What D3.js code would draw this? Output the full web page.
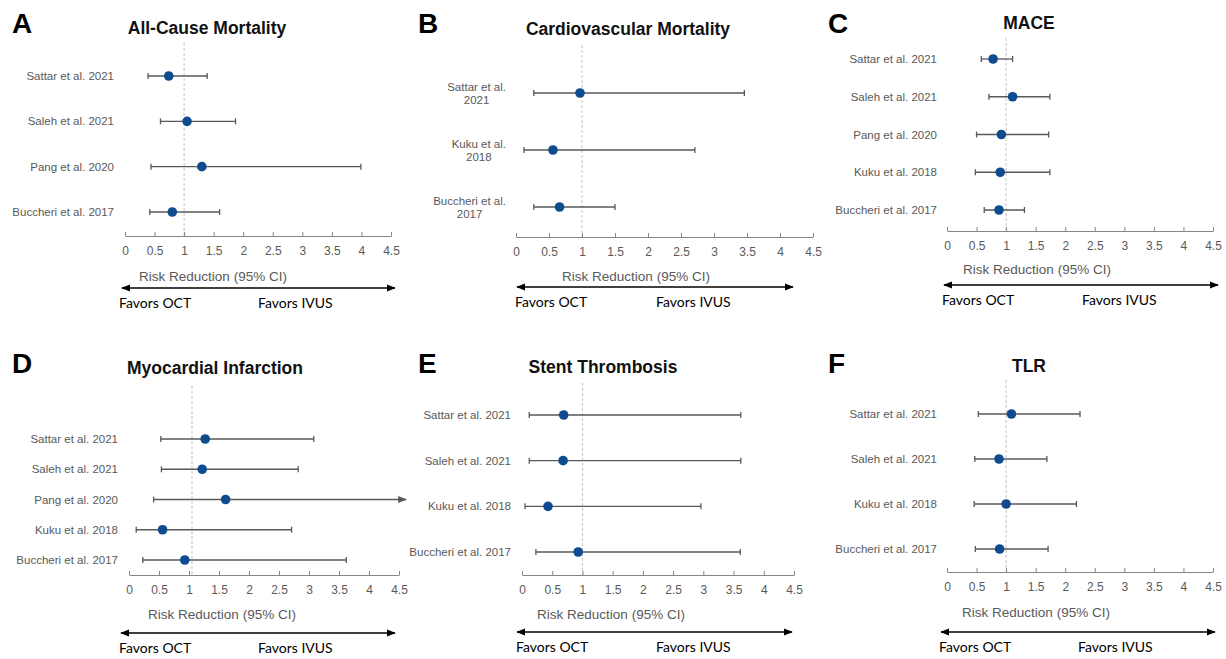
<!DOCTYPE html>
<html lang="en">
<head>
<meta charset="utf-8">
<title>OCT vs IVUS forest plots</title>
<script src="https://d3js.org/d3.v7.min.js"></script>
<style>
  body { margin: 0; background: #fff; }
  svg { display: block; font-family: "Liberation Sans", Arial, sans-serif; }
  .study { fill: #595959; font-size: 11.5px; }
  .axis .tick text { fill: #595959; font-size: 12px; font-family: "Liberation Sans", Arial, sans-serif; }
  .axis path, .axis line { stroke: #868686; }
  .ref { stroke: #c4c4c4; stroke-dasharray: 3,2; }
  .ci { stroke: #595959; stroke-width: 1.3; }
  .pt { fill: #0f4c8f; }
  .title { font-weight: bold; font-size: 17.5px; fill: #111; }
  .letter { font-weight: bold; font-size: 28px; fill: #000; }
  .rr { fill: #595959; font-size: 13.5px; }
  .fav { font-family: Lato, "Open Sans", sans-serif; font-size: 14px; fill: #000; }
</style>
</head>
<body>
<svg id="chart" width="1226" height="659"></svg>
<script>
// values
const xTicks = [0, 0.5, 1, 1.5, 2, 2.5, 3, 3.5, 4, 4.5];
const letters = ["A", "B", "C", "D", "E", "F"];
const titles = ["All-Cause Mortality", "Cardiovascular Mortality", "MACE",
                "Myocardial Infarction", "Stent Thrombosis", "TLR"];
const refValues = [1, 1, 1, 1.05, 1, 1];

const studiesA = ["Sattar et al. 2021", "Saleh et al. 2021", "Pang et al. 2020", "Buccheri et al. 2017"];
const rrA = [0.74, 1.05, 1.30, 0.80];
const loA = [0.39, 0.60, 0.44, 0.42];
const hiA = [1.39, 1.87, 3.99, 1.60];

const studiesB = ["Sattar et al. 2021", "Kuku et al. 2018", "Buccheri et al. 2017"];
const rrB = [0.97, 0.56, 0.66];
const loB = [0.27, 0.12, 0.27];
const hiB = [3.46, 2.71, 1.50];

const studiesC = ["Sattar et al. 2021", "Saleh et al. 2021", "Pang et al. 2020", "Kuku et al. 2018", "Buccheri et al. 2017"];
const rrC = [0.78, 1.11, 0.92, 0.90, 0.88];
const loC = [0.58, 0.71, 0.50, 0.48, 0.63];
const hiC = [1.11, 1.74, 1.72, 1.74, 1.31];

const studiesD = ["Sattar et al. 2021", "Saleh et al. 2021", "Pang et al. 2020", "Kuku et al. 2018", "Buccheri et al. 2017"];
const rrD = [1.27, 1.22, 1.61, 0.56, 0.93];
const loD = [0.53, 0.54, 0.41, 0.12, 0.23];
const hiD = [3.08, 2.82, 4.62, 2.71, 3.62];   // Pang runs off the axis

const studiesE = ["Sattar et al. 2021", "Saleh et al. 2021", "Kuku et al. 2018", "Buccheri et al. 2017"];
const rrE = [0.69, 0.68, 0.43, 0.93];
const loE = [0.12, 0.12, 0.05, 0.23];
const hiE = [3.62, 3.62, 2.96, 3.61];

const studiesF = ["Sattar et al. 2021", "Saleh et al. 2021", "Kuku et al. 2018", "Buccheri et al. 2017"];
const rrF = [1.09, 0.88, 1.00, 0.89];
const loF = [0.53, 0.47, 0.46, 0.48];
const hiF = [2.25, 1.69, 2.19, 1.71];

const allStudies = [studiesA, studiesB, studiesC, studiesD, studiesE, studiesF];
const allRR = [rrA, rrB, rrC, rrD, rrE, rrF];
const allLo = [loA, loB, loC, loD, loE, loF];
const allHi = [hiA, hiB, hiC, hiD, hiE, hiF];

// panel placement
const layout = [
  { x0: 125, x1: 391, axisY: 236, rowTop: 76, rowBot: 212, labelR: 114, wrap: false, titleX: 207, titleY: 34, letterX: 12, letterY: 33, refTop: 43, rrX: 213, rrY: 281, arrowY: 288, ax0: 122, ax1: 395, favY: 308, octX: 119, ivusX: 258 },
  { x0: 516, x1: 813, axisY: 237, rowTop: 93, rowBot: 207, labelR: 506, wrap: true, titleX: 628, titleY: 35, letterX: 418, letterY: 33, refTop: 45, rrX: 636, rrY: 281, arrowY: 287, ax0: 517, ax1: 793, favY: 307, octX: 515, ivusX: 656 },
  { x0: 947, x1: 1213, axisY: 231, rowTop: 59, rowBot: 210, labelR: 937, wrap: false, titleX: 1029, titleY: 29, letterX: 828, letterY: 33, refTop: 38, rrX: 1037, rrY: 274, arrowY: 285, ax0: 944, ax1: 1218, favY: 305, octX: 942, ivusX: 1082 },
  { x0: 129, x1: 399, axisY: 575, rowTop: 439, rowBot: 560, labelR: 118, wrap: false, titleX: 215, titleY: 374, letterX: 12, letterY: 373, refTop: 386, rrX: 222, rrY: 619, arrowY: 633, ax0: 121, ax1: 395, favY: 653, octX: 119, ivusX: 258 },
  { x0: 522, x1: 794, axisY: 575, rowTop: 415, rowBot: 552, labelR: 511, wrap: false, titleX: 603, titleY: 373, letterX: 418, letterY: 373, refTop: 383, rrX: 611, rrY: 619, arrowY: 632, ax0: 517, ax1: 792, favY: 652, octX: 516, ivusX: 656 },
  { x0: 947, x1: 1213, axisY: 572, rowTop: 414, rowBot: 549, labelR: 937, wrap: false, titleX: 1029, titleY: 372, letterX: 828, letterY: 373, refTop: 380, rrX: 1036, rrY: 617, arrowY: 632, ax0: 941, ax1: 1215, favY: 652, octX: 939, ivusX: 1078 }
];

const svg = d3.select("#chart");

const defs = svg.append("defs");
defs.append("marker")
  .attr("id", "headBlack")
  .attr("viewBox", "0 0 10 10").attr("refX", 9).attr("refY", 5)
  .attr("markerUnits", "userSpaceOnUse")
  .attr("markerWidth", 9).attr("markerHeight", 9)
  .attr("orient", "auto-start-reverse")
  .append("path").attr("d", "M0,1 L10,5 L0,9 Z").attr("fill", "#000");
defs.append("marker")
  .attr("id", "headGray")
  .attr("viewBox", "0 0 10 10").attr("refX", 9).attr("refY", 5)
  .attr("markerUnits", "userSpaceOnUse")
  .attr("markerWidth", 9).attr("markerHeight", 9)
  .attr("orient", "auto")
  .append("path").attr("d", "M0,1 L10,5 L0,9 Z").attr("fill", "#595959");

layout.forEach((p, k) => {
  const g = svg.append("g");
  const studies = allStudies[k], rr = allRR[k], lo = allLo[k], hi = allHi[k];
  const rows = studies.map((s, i) => ({ study: s, rr: rr[i], lo: lo[i], hi: hi[i] }));

  const x = d3.scaleLinear().domain([0, 4.5]).range([p.x0, p.x1]);
  const y = d3.scalePoint().domain(studies).range([p.rowTop, p.rowBot]);

  // panel letter and title
  g.append("text").attr("class", "letter").attr("x", p.letterX).attr("y", p.letterY).text(letters[k]);
  g.append("text").attr("class", "title").attr("x", p.titleX).attr("y", p.titleY)
    .attr("text-anchor", "middle").text(titles[k]);

  // dashed line of no effect
  g.append("line").attr("class", "ref")
    .attr("x1", x(refValues[k])).attr("x2", x(refValues[k]))
    .attr("y1", p.refTop).attr("y2", p.axisY);

  // x axis
  g.append("g").attr("class", "axis")
    .attr("transform", `translate(0,${p.axisY})`)
    .call(d3.axisBottom(x).tickValues(xTicks).tickSizeInner(-4).tickSizeOuter(0).tickPadding(8)
      .tickFormat(d3.format("~g")))
    .call(a => a.selectAll(".tick text").attr("dy", "0.9em"));

  // study labels
  rows.forEach(d => {
    if (p.wrap) {
      const parts = [d.study.replace(/ \d{4}$/, ""), d.study.match(/\d{4}$/)[0]];
      const t = g.append("text").attr("class", "study").attr("text-anchor", "middle");
      parts.forEach((s, j) => t.append("tspan").attr("x", 0).attr("y", y(d.study) + (j === 0 ? -2.5 : 10.5)).text(s));
      const w = t.node().getBBox().width;
      t.selectAll("tspan").attr("x", p.labelR - w / 2);
    } else {
      g.append("text").attr("class", "study")
        .attr("x", p.labelR).attr("y", y(d.study)).attr("dy", "0.35em")
        .attr("text-anchor", "end").text(d.study);
    }
  });

  // confidence intervals
  g.selectAll(".ci-line").data(rows).enter().append("line")
    .attr("class", "ci")
    .attr("x1", d => x(d.lo)).attr("x2", d => x(d.hi))
    .attr("y1", d => y(d.study)).attr("y2", d => y(d.study))
    .attr("marker-end", d => d.hi > 4.5 ? "url(#headGray)" : null);

  const caps = [];
  rows.forEach(d => {
    caps.push({ v: d.lo, s: d.study });
    if (d.hi <= 4.5) caps.push({ v: d.hi, s: d.study });
  });
  g.selectAll(".cap").data(caps).enter().append("line")
    .attr("class", "ci")
    .attr("x1", d => x(d.v)).attr("x2", d => x(d.v))
    .attr("y1", d => y(d.s) - 3).attr("y2", d => y(d.s) + 3);

  g.selectAll(".pt").data(rows).enter().append("circle")
    .attr("class", "pt")
    .attr("cx", d => x(d.rr)).attr("cy", d => y(d.study)).attr("r", 4.8);

  // axis caption and direction arrow
  g.append("text").attr("class", "rr").attr("x", p.rrX).attr("y", p.rrY)
    .attr("text-anchor", "middle").text("Risk Reduction (95% CI)");
  g.append("line")
    .attr("x1", p.ax0).attr("x2", p.ax1)
    .attr("y1", p.arrowY).attr("y2", p.arrowY)
    .attr("stroke", "#000").attr("stroke-width", 1.6)
    .attr("marker-start", "url(#headBlack)").attr("marker-end", "url(#headBlack)");
  g.append("text").attr("class", "fav").attr("x", p.octX).attr("y", p.favY).text("Favors OCT");
  g.append("text").attr("class", "fav").attr("x", p.ivusX).attr("y", p.favY).text("Favors IVUS");
});
</script>
</body>
</html>
